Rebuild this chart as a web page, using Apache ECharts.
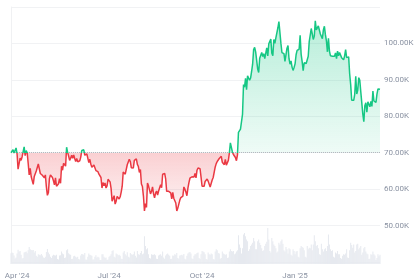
<!DOCTYPE html>
<html>
<head>
<meta charset="utf-8">
<script src="https://cdn.jsdelivr.net/npm/echarts@6/dist/echarts.min.js"></script>
<style>
html,body{margin:0;padding:0;background:#fff;}
#chart{width:420px;height:280px;}
</style>
</head>
<body>
<div id="chart"></div>
<script>
// Daily closing price in thousands USD, 2024-03-26 .. 2025-03-26
const startDate = '2024-03-26';
const priceK = [
  // Mar 26-31 2024
  70.0, 69.5, 70.8, 69.9, 69.7, 71.3,
  // Apr
  69.7, 65.5, 66.0, 68.5, 67.9, 68.9, 69.4, 71.6, 69.2, 70.6,
  70.0, 67.1, 63.9, 65.7, 63.4, 63.8, 61.3, 63.5, 63.8, 65.0,
  65.0, 66.9, 66.4, 64.3, 64.5, 63.8, 63.4, 63.1, 63.9, 60.6,
  // May
  58.3, 59.1, 62.9, 63.9, 64.0, 63.2, 62.3, 61.2, 63.1, 60.8,
  60.8, 61.5, 62.9, 61.6, 66.3, 65.2, 67.1, 66.9, 66.3, 71.5,
  70.1, 69.1, 67.9, 68.5, 69.3, 68.5, 69.4, 68.4, 67.6, 68.4, 67.5,
  // Jun
  67.7, 67.8, 68.8, 70.6, 71.1, 70.8, 69.3, 69.3, 69.7, 69.5,
  67.3, 68.2, 66.8, 66.0, 66.2, 66.6, 66.5, 65.1, 65.0, 64.8,
  64.1, 64.3, 63.2, 60.3, 61.8, 60.9, 61.7, 60.3, 60.9, 62.7,
  // Jul
  62.9, 62.0, 60.2, 56.7, 56.7, 58.2, 55.9, 56.7, 58.0, 57.7,
  57.3, 57.9, 59.2, 60.8, 64.7, 65.0, 64.1, 64.0, 66.7, 67.2,
  68.2, 67.6, 65.9, 65.4, 65.8, 67.9, 67.8, 68.3, 66.8, 66.2, 64.6,
  // Aug
  65.4, 61.4, 60.7, 58.1, 54.0, 56.0, 55.0, 61.7, 60.9, 60.9,
  58.7, 59.4, 60.6, 58.7, 57.6, 58.9, 59.5, 58.4, 59.5, 59.0,
  61.2, 60.4, 64.1, 64.2, 64.3, 62.8, 59.4, 59.0, 59.4, 59.1, 59.0,
  // Sep
  57.3, 59.1, 57.5, 58.0, 56.2, 54.0, 54.8, 54.9, 57.0, 57.7,
  57.3, 58.1, 60.6, 60.0, 59.2, 58.2, 60.3, 61.8, 63.0, 63.2,
  63.4, 63.6, 63.3, 64.3, 63.1, 65.2, 65.8, 65.9, 65.6, 63.3,
  // Oct
  60.8, 60.6, 60.8, 62.1, 62.1, 62.8, 62.2, 62.1, 60.6, 60.3,
  62.5, 63.2, 62.9, 66.1, 67.0, 67.6, 67.4, 68.4, 68.4, 69.0,
  67.4, 67.4, 66.7, 68.2, 66.6, 67.0, 67.9, 69.9, 72.7, 72.3, 70.2,
  // Nov
  69.5, 69.3, 68.7, 67.8, 69.4, 75.6, 75.9, 76.5, 76.7, 80.5,
  88.7, 88.0, 90.4, 87.3, 91.1, 90.6, 89.9, 90.5, 92.3, 94.3,
  98.3, 98.9, 97.7, 97.9, 93.0, 92.0, 95.9, 95.6, 97.5, 96.4,
  // Dec
  97.2, 95.8, 96.0, 98.8, 96.6, 99.9, 99.9, 101.2, 97.3, 96.6,
  101.1, 100.0, 101.5, 101.4, 104.3, 106.0, 106.1, 100.0, 97.5, 97.8,
  97.2, 95.1, 94.7, 98.7, 99.4, 95.8, 94.3, 95.2, 93.5, 92.6, 93.4,
  // Jan 2025
  94.4, 96.9, 98.1, 98.2, 98.4, 102.2, 97.0, 95.0, 92.5, 94.7,
  94.6, 94.5, 94.5, 96.5, 100.5, 100.0, 104.1, 104.5, 101.1, 102.0,
  106.2, 103.7, 104.0, 104.8, 104.7, 102.6, 102.1, 101.3, 103.7, 104.7, 102.4,
  // Feb
  100.7, 97.7, 101.4, 97.9, 96.6, 96.6, 96.5, 96.5, 96.5, 97.4,
  95.8, 97.9, 96.6, 97.5, 97.6, 96.1, 95.8, 95.5, 96.6, 98.3,
  96.1, 96.6, 96.3, 91.6, 88.7, 84.4, 84.7, 84.4,
  // Mar 1-26
  86.0, 91.0, 86.1, 87.2, 90.6, 89.9, 86.7, 86.2, 80.6, 78.5,
  82.9, 83.7, 81.1, 84.0, 84.3, 82.6, 84.1, 82.7, 86.9, 84.2,
  84.0, 83.8, 86.1, 87.5, 87.5, 87.4
];
// Daily traded volume, billions USD
const volumeB = [
  33, 35, 34, 26, 17, 20,
  32, 44, 38, 40, 28, 17, 18, 35, 37, 38, 33, 42, 52, 45, 43, 42, 43, 35, 40, 25, 22, 30, 28, 27, 31, 26, 20, 18, 22, 37,
  46, 35, 30, 22, 18, 25, 28, 27, 26, 28, 15, 14, 26, 27, 38, 32, 30, 18, 20, 42, 45, 33, 30, 28, 15, 16, 24, 25, 22, 20, 22,
  15, 14, 26, 31, 30, 28, 34, 14, 13, 22, 32, 28, 27, 25, 14, 14, 22, 27, 20, 22, 20, 12, 12, 30, 30, 22, 18, 20, 12, 14,
  22, 25, 30, 40, 42, 22, 20, 32, 30, 27, 28, 25, 16, 15, 35, 40, 30, 26, 36, 22, 20, 34, 30, 28, 30, 38, 25, 20, 40, 30, 28,
  34, 40, 30, 32, 85, 55, 45, 48, 30, 18, 17, 30, 28, 28, 30, 27, 16, 15, 26, 28, 30, 25, 38, 20, 16, 26, 30, 32, 28, 25, 15,
  16, 26, 25, 30, 28, 34, 18, 16, 26, 27, 28, 26, 31, 16, 14, 25, 32, 35, 37, 32, 17, 15, 25, 30, 30, 34, 35, 18, 15, 30,
  40, 38, 36, 30, 15, 14, 35, 30, 28, 32, 30, 15, 14, 38, 45, 42, 34, 32, 16, 18, 38, 32, 30, 28, 30, 18, 20, 38, 45, 40, 38,
  40, 30, 32, 38, 42, 88, 60, 50, 32, 48, 90, 95, 85, 75, 70, 40, 45, 55, 60, 65, 80, 70, 45, 45, 70, 75, 65, 58, 48, 40,
  42, 55, 62, 68, 110, 75, 40, 35, 80, 70, 60, 55, 48, 35, 38, 65, 60, 70, 75, 62, 42, 38, 52, 45, 32, 48, 45, 28, 25, 45, 40,
  30, 38, 40, 22, 20, 48, 55, 52, 50, 42, 22, 20, 55, 45, 50, 48, 60, 42, 60, 88, 70, 55, 58, 48, 30, 28, 62, 45, 38, 45, 48,
  40, 55, 90, 60, 45, 40, 42, 22, 20, 35, 32, 40, 30, 30, 18, 16, 25, 30, 28, 32, 45, 20, 18, 42, 65, 58, 50, 60,
  35, 40, 60, 62, 45, 50, 55, 28, 35, 48, 52, 38, 32, 30, 15, 16, 30, 28, 38, 30, 26, 12, 18, 30, 24, 28
];
const baselineK = 70;
const xTickDates = ['2024-04-01', '2024-07-01', '2024-10-01', '2025-01-01'];
const xTickLabels = ["Apr '24", "Jul '24", "Oct '24", "Jan '25"];
const yTickValuesK = [50, 60, 70, 80, 90, 100];

// categories (dates)
const categories = [];
{
  const d0 = new Date(startDate + 'T00:00:00Z');
  for (let i = 0; i < priceK.length; i++) {
    const d = new Date(d0.getTime() + i * 86400000);
    categories.push(d.toISOString().slice(0, 10));
  }
}
const price = priceK.map(v => v * 1000);
const base = price.map(() => baselineK * 1000);
const diff = price.map(v => v - baselineK * 1000);

const GREEN = '#16c784', RED = '#ea3943';
const labelColor = '#8a92a2';
const font = 'Roboto, "Liberation Sans", Arial, sans-serif';

const chart = echarts.init(document.getElementById('chart'), null, {renderer: 'canvas'});
const option = {
  animation: false,
  grid: [
    {left: 11, right: 40, top: 7, bottom: 18},
    {left: 11, right: 40, bottom: 16, height: 64}
  ],
  xAxis: [
    {type: 'category', gridIndex: 0, data: categories, boundaryGap: false,
     axisLine: {show: false}, axisTick: {show: false}, axisLabel: {show: false}, splitLine: {show: false}},
    {type: 'category', gridIndex: 1, data: categories, boundaryGap: false,
     axisLine: {show: false}, axisTick: {show: false}, splitLine: {show: false},
     axisLabel: {
       show: true, color: labelColor, fontSize: 8, fontFamily: font, margin: 8,
       interval: (i, v) => xTickDates.indexOf(v) >= 0,
       formatter: v => { const k = xTickDates.indexOf(v); return k >= 0 ? xTickLabels[k] : ''; }
     }}
  ],
  yAxis: [
    {type: 'value', gridIndex: 0, position: 'right', min: 40000, max: 110000, interval: 10000,
     axisLine: {show: false}, axisTick: {show: false},
     splitLine: {lineStyle: {color: '#f1f2f4', width: 1}},
     axisLabel: {color: labelColor, fontSize: 8, fontFamily: font, margin: 4,
       formatter: v => yTickValuesK.indexOf(v / 1000) >= 0 ? (v / 1000).toFixed(2) + 'K' : ''}},
    {type: 'value', gridIndex: 1, min: 0, max: 196, show: false, splitLine: {show: false}},
    {type: 'value', gridIndex: 0, position: 'left', min: 40000, max: 110000,
     axisLine: {show: true, lineStyle: {color: '#f0f1f3'}}, axisTick: {show: false},
     axisLabel: {show: false}, splitLine: {show: false}}
  ],
  series: [
    {name: 'price', type: 'line', xAxisIndex: 0, yAxisIndex: 0, data: price,
     symbol: 'none', z: 5, lineStyle: {width: 1.5, color: RED},
     markLine: {silent: true, symbol: ['none', 'none'], label: {show: false},
       lineStyle: {type: 'dotted', color: '#b5b8bf', width: 1},
       data: [{yAxis: baselineK * 1000}]}},
    {name: 'base', type: 'line', xAxisIndex: 0, yAxisIndex: 0, data: base, stack: 'fill', stackStrategy: 'all',
     symbol: 'none', silent: true, lineStyle: {opacity: 0, width: 0}, z: 2},
    {name: 'fill', type: 'line', xAxisIndex: 0, yAxisIndex: 0, data: diff, stack: 'fill', stackStrategy: 'all',
     symbol: 'none', silent: true, lineStyle: {opacity: 0, width: 0}, z: 2,
     areaStyle: {color: 'rgba(22,199,132,0.15)', opacity: 1}},
    {name: 'volume', type: 'bar', xAxisIndex: 1, yAxisIndex: 1, data: volumeB,
     barCategoryGap: '25%', itemStyle: {color: '#e6e9ef'}, silent: true, z: 1}
  ]
};
chart.setOption(option);

// Colours anchored on the axis scale: green above the baseline, red below
try {
  const yHi = chart.convertToPixel({yAxisIndex: 0}, 106000);
  const yBase = chart.convertToPixel({yAxisIndex: 0}, baselineK * 1000);
  const yLo = chart.convertToPixel({yAxisIndex: 0}, 54000);
  const t = (yBase - yHi) / (yLo - yHi);
  chart.setOption({
    series: [{
      lineStyle: {
        color: new echarts.graphic.LinearGradient(0, yHi, 0, yLo, [
          {offset: 0, color: GREEN}, {offset: t, color: GREEN},
          {offset: t, color: RED}, {offset: 1, color: RED}
        ], true)
      }
    }, {}, {
      areaStyle: {
        color: new echarts.graphic.LinearGradient(0, yHi, 0, yLo, [
          {offset: 0, color: 'rgba(22,199,132,0.30)'},
          {offset: t, color: 'rgba(22,199,132,0.07)'},
          {offset: t, color: 'rgba(234,57,67,0.24)'},
          {offset: 1, color: 'rgba(234,57,67,0.06)'}
        ], true)
      }
    }, {}]
  });
} catch (e) { console.error(e); }
</script>
</body>
</html>
